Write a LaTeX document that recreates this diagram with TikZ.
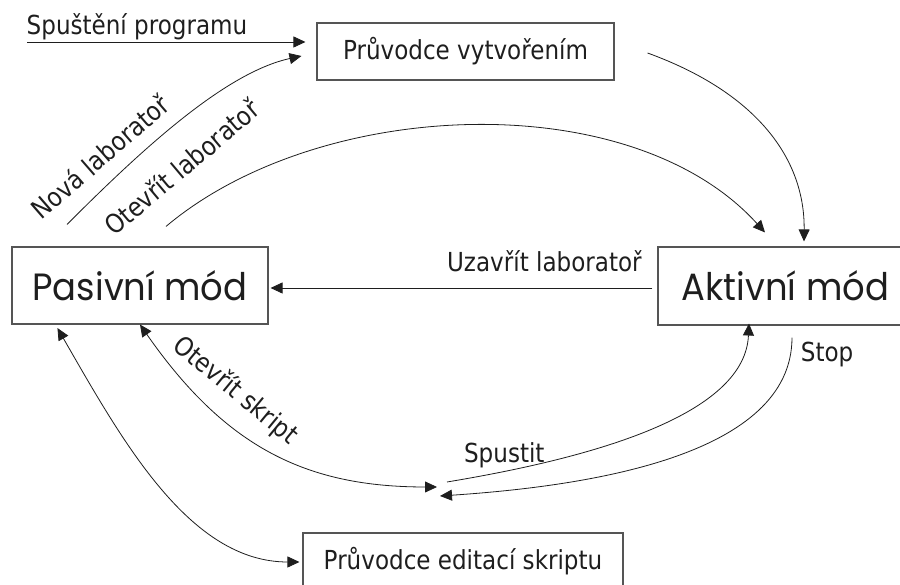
\documentclass[tikz,border=0pt]{standalone}
\usepackage{fontspec}
\setmainfont[FakeStretch=0.88]{DejaVu Sans}
\newfontfamily\modefont[FakeStretch=0.93]{Poppins}
\usepackage{tikz}
\usetikzlibrary{arrows.meta, calc}
\definecolor{boxline}{RGB}{85,85,85}
\definecolor{inkblack}{RGB}{30,30,30}
\tikzset{
  statebox/.style={
    draw=boxline,
    line width=1.1pt,
    inner sep=0pt,
    text=inkblack,
    font=\fontsize{26.2}{30}\selectfont
  },
  modebox/.style={statebox, font=\modefont\fontsize{38}{44}\selectfont},
  lbl/.style={inner sep=2pt, text=inkblack, font=\fontsize{26.2}{30}\selectfont},
  arr/.style={-{Triangle[length=12pt,width=11pt]}, line width=0.8pt, draw=inkblack},
  darr/.style={{Triangle[length=12pt,width=11pt]}-{Triangle[length=12pt,width=11pt]}, line width=0.8pt, draw=inkblack}
}

\begin{document}
\begin{tikzpicture}[x=1pt, y=1pt]
\useasboundingbox (0,0) rectangle (900,585);

% States
\node[statebox, minimum width=297pt, minimum height=57pt] (wizard) at (465.5,533.5) {Průvodce vytvořením};
\node[modebox, minimum width=256pt, minimum height=77pt] (passive) at (140,299.5) {Pasivní mód};
\node[modebox, minimum width=255pt, minimum height=78pt] (active) at (785.5,299) {Aktivní mód};
\node[statebox, minimum width=320pt, minimum height=56pt] (editwiz) at (463,24) {Průvodce editací skriptu};

% Free ends
\coordinate (launch) at (27,543);
\coordinate (editorin) at (437,98);
\coordinate (editorout) at (447,103);
\coordinate (editorstop) at (440,89);

% Program start
\draw[arr] (launch) -- ($(wizard.west)+(-11,9.5)$) node[lbl, pos=0.395, above] {Spuštění programu};

% New / open laboratory
\draw[arr] ($(passive.north)+(-73,22)$) .. controls ($(passive.north)+(-2,93)$) and ($(wizard.west)+(-93,-21.5)$) .. ($(wizard.west)+(-15,-4.5)$);
\node[lbl, rotate=41] (newlab) at ($(passive.north)+(-40,90)$) {Nová laboratoř};

\draw[arr] ($(passive.north)+(26,20)$) .. controls ($(passive.north)+(179,149)$) and ($(active.north)+(-154.5,162)$) .. ($(active.north)+(-20.5,14)$);
\node[lbl, rotate=40] (openlab) at ($(passive.north)+(41.5,79.5)$) {Otevřít laboratoř};

\draw[arr] ($(wizard.east)+(33,-1.5)$) .. controls ($(wizard.east)+(143,-41.5)$) and ($(active.north)+(19.5,87)$) .. ($(active.north)+(18.5,5)$);

% Close laboratory
\draw[arr] ($(active.west)+(-5,-2)$) -- ($(passive.east)+(2,-2.5)$) node[lbl, pos=0.283, above=14pt] {Uzavřít laboratoř};

% Script
\draw[darr] (passive.south) .. controls ($(passive.south)+(86,-123.5)$) and ($(editorin)+(-130,0)$) .. (editorin);
\node[lbl, rotate=-39.5] (openscript) at ($(passive.south)+(95.5,-66.5)$) {Otevřít skript};

\draw[darr] ($(passive.south west)+(46,-3.5)$) .. controls ($(passive.south west)+(111,-116.5)$) and ($(editwiz.west)+(-113,-1)$) .. ($(editwiz.west)+(-3,-1)$);

\draw[arr] (editorout) .. controls ($(editorout)+(163,27)$) and ($(active.south)+(-40.5,-85)$) .. ($(active.south)+(-36.5,2)$) node[lbl, pos=0.12, above=1pt] {Spustit};

\draw[arr] ($(active.south)+(6.5,-12)$) .. controls ($(active.south)+(6.5,-130)$) and ($(editorstop)+(150,10)$) .. (editorstop) node[lbl, pos=0.05, right=8pt] {Stop};

\end{tikzpicture}
\end{document}
